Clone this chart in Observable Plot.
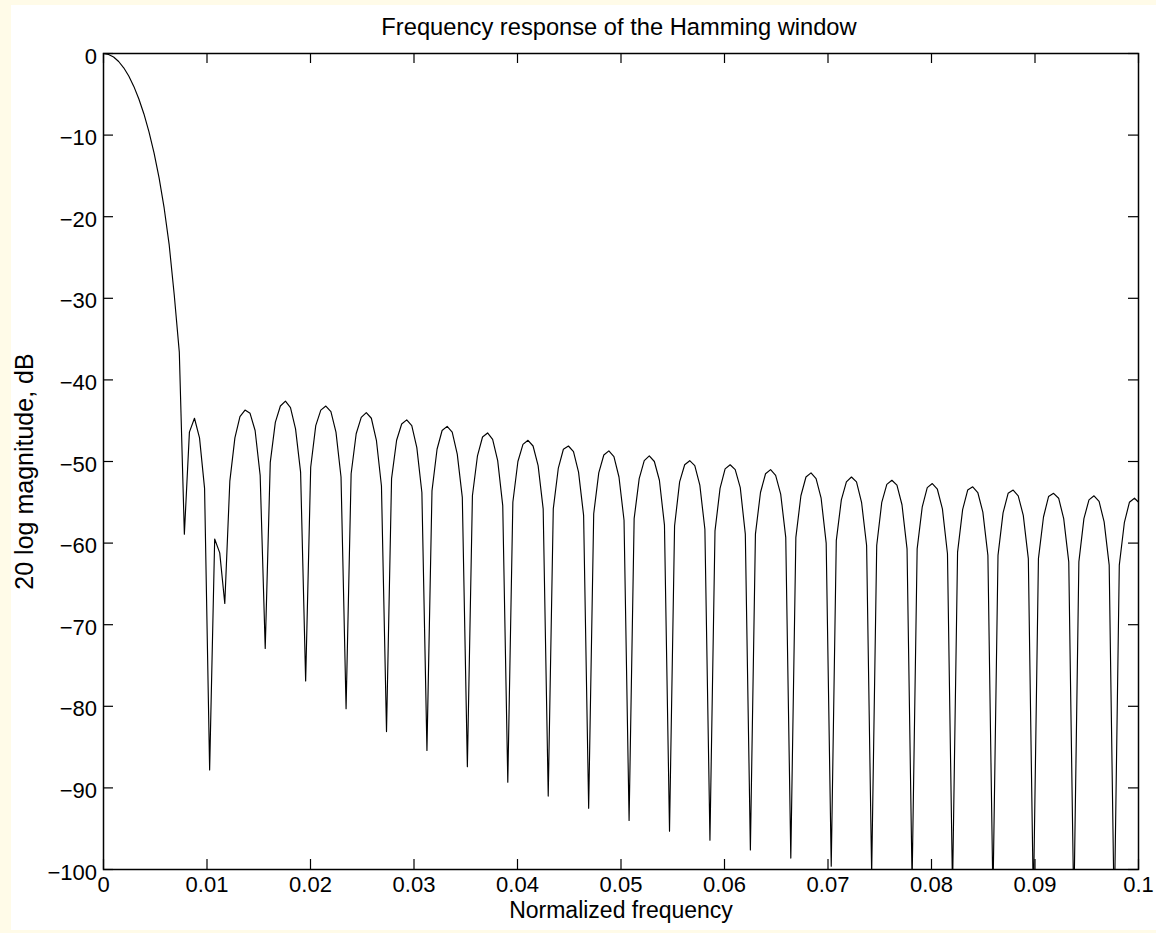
<!DOCTYPE html>
<html>
<head>
<meta charset="utf-8">
<script src="https://cdn.jsdelivr.net/npm/d3@7"></script>
<script src="https://cdn.jsdelivr.net/npm/@observablehq/plot@0.6"></script>
<style>
html, body { margin:0; padding:0; background:#fffbe8; width:1156px; height:933px; overflow:hidden; }
#paper { position:absolute; left:11px; top:5px; width:1145px; height:925px; background:#ffffff; }
#chart { position:absolute; left:0; top:0; }
.lbl { position:absolute; font-family:"Liberation Sans", Arial, Helvetica, sans-serif; color:#000; white-space:nowrap; text-align:center; }
#title { left:319px; top:16px; width:600px; font-size:23.7px; line-height:23.7px; }
#xlabel { left:321px; top:898.5px; width:600px; font-size:23px; line-height:23px; }
#ylabel { left:-176.5px; top:458.5px; width:400px; height:25px; font-size:25px; line-height:25px; transform:rotate(-90deg); transform-origin:50% 50%; }
</style>
</head>
<body>
<div id="paper"></div>
<div id="chart"></div>
<div id="title" class="lbl">Frequency response of the Hamming window</div>
<div id="xlabel" class="lbl">Normalized frequency</div>
<div id="ylabel" class="lbl">20 log magnitude, dB</div>
<script>
// Sampled magnitude response (dB), one value per frequency bin of width 1/2048
const freqStep = 1 / 2048;
const magnitudeDb = [
  0, -0.11, -0.43, -0.98, -1.75, -2.76, -4.03, -5.57,
  -7.41, -9.6, -12.18, -15.25, -18.93, -23.46, -29.6, -36.6,
  -58.9, -46.4, -44.7, -47.1, -53.3, -87.8, -59.5, -61.2,
  -67.4, -52.4, -47.1, -44.5, -43.7, -44.1, -46.2, -51.7,
  -72.9, -50.1, -45.2, -43.2, -42.6, -43.4, -46.0, -51.3,
  -76.9, -50.7, -45.6, -43.7, -43.2, -43.9, -46.4, -51.9,
  -80.3, -51.5, -46.6, -44.6, -44.0, -44.7, -47.4, -53.0,
  -83.1, -52.1, -47.4, -45.4, -44.9, -45.6, -48.3, -53.8,
  -85.4, -53.6, -48.5, -46.2, -45.7, -46.4, -49.1, -54.4,
  -87.4, -54.2, -49.3, -47.0, -46.5, -47.3, -49.9, -55.4,
  -89.3, -55.0, -50.0, -47.9, -47.4, -48.1, -50.5, -55.8,
  -91.0, -55.8, -50.8, -48.5, -48.1, -48.8, -51.3, -56.6,
  -92.5, -56.4, -51.4, -49.2, -48.7, -49.4, -51.9, -57.2,
  -94.0, -57.0, -52.1, -49.9, -49.3, -50.0, -52.3, -57.8,
  -95.3, -57.9, -52.5, -50.4, -49.9, -50.5, -52.9, -58.3,
  -96.4, -58.5, -53.3, -50.9, -50.4, -51.0, -53.2, -58.9,
  -97.6, -58.9, -53.8, -51.5, -51.0, -51.7, -54.0, -59.3,
  -98.6, -59.3, -54.2, -51.9, -51.4, -52.1, -54.5, -60.0,
  -99.6, -59.7, -54.7, -52.5, -51.9, -52.5, -55.0, -60.3,
  -100.6, -60.3, -55.0, -52.8, -52.3, -52.9, -55.3, -60.7,
  -101.5, -60.7, -55.6, -53.2, -52.7, -53.4, -55.8, -61.3,
  -102.4, -61.1, -55.9, -53.5, -53.1, -53.8, -56.2, -61.5,
  -103.3, -61.5, -56.3, -53.9, -53.5, -54.2, -56.6, -61.9,
  -104.2, -61.9, -56.8, -54.3, -53.9, -54.5, -57.0, -62.3,
  -105.1, -62.3, -57.0, -54.7, -54.2, -54.9, -57.4, -62.7,
  -106.0, -62.7, -57.5, -55.0, -54.5, -55.1
];

const xTickValues = [0, 0.01, 0.02, 0.03, 0.04, 0.05, 0.06, 0.07, 0.08, 0.09, 0.1];
const xTickLabels = ["0", "0.01", "0.02", "0.03", "0.04", "0.05", "0.06", "0.07", "0.08", "0.09", "0.1"];
const yTickValues = [0, -10, -20, -30, -40, -50, -60, -70, -80, -90, -100];
const yTickLabels = ["0", "\u221210", "\u221220", "\u221230", "\u221240", "\u221250", "\u221260", "\u221270", "\u221280", "\u221290", "\u2212100"];

const spectrum = magnitudeDb.map((db, i) => ({f: i * freqStep, db}));

const W = 1156, H = 933;
const mL = 103, mR = 18, mT = 53, mB = 64;
const frameW = W - mL - mR, frameH = H - mT - mB;
const tickLen = 10;
const font = '"Liberation Sans", Arial, Helvetica, sans-serif';

const chart = Plot.plot({
  width: W,
  height: H,
  marginLeft: mL,
  marginRight: mR,
  marginTop: mT,
  marginBottom: mB,
  style: {background: "transparent", fontFamily: font, fontSize: "22px", color: "#000", overflow: "visible"},
  x: {domain: [0, 0.1], axis: null},
  y: {domain: [-100, 0], axis: null},
  marks: [
    Plot.line(spectrum, {x: "f", y: "db", stroke: "#000", strokeWidth: 1.15, clip: true}),
    Plot.tickX(xTickValues, {x: d => d, insetTop: frameH - tickLen, stroke: "#000", strokeWidth: 1.2}),
    Plot.tickX(xTickValues, {x: d => d, insetBottom: frameH - tickLen, stroke: "#000", strokeWidth: 1.2}),
    Plot.tickY(yTickValues, {y: d => d, insetRight: frameW - tickLen, stroke: "#000", strokeWidth: 1.2}),
    Plot.tickY(yTickValues, {y: d => d, insetLeft: frameW - tickLen, stroke: "#000", strokeWidth: 1.2}),
    Plot.frame({stroke: "#000", strokeWidth: 1.5}),
    Plot.text(xTickValues, {x: d => d, text: (d, i) => xTickLabels[i], frameAnchor: "bottom", dy: 22, fontSize: 22, fill: "#000"}),
    Plot.text(yTickValues, {y: d => d, text: (d, i) => yTickLabels[i], frameAnchor: "left", textAnchor: "end", dx: -6.5, dy: 3, fontSize: 22, fill: "#000"})
  ]
});
document.getElementById("chart").appendChild(chart);
</script>
</body>
</html>
